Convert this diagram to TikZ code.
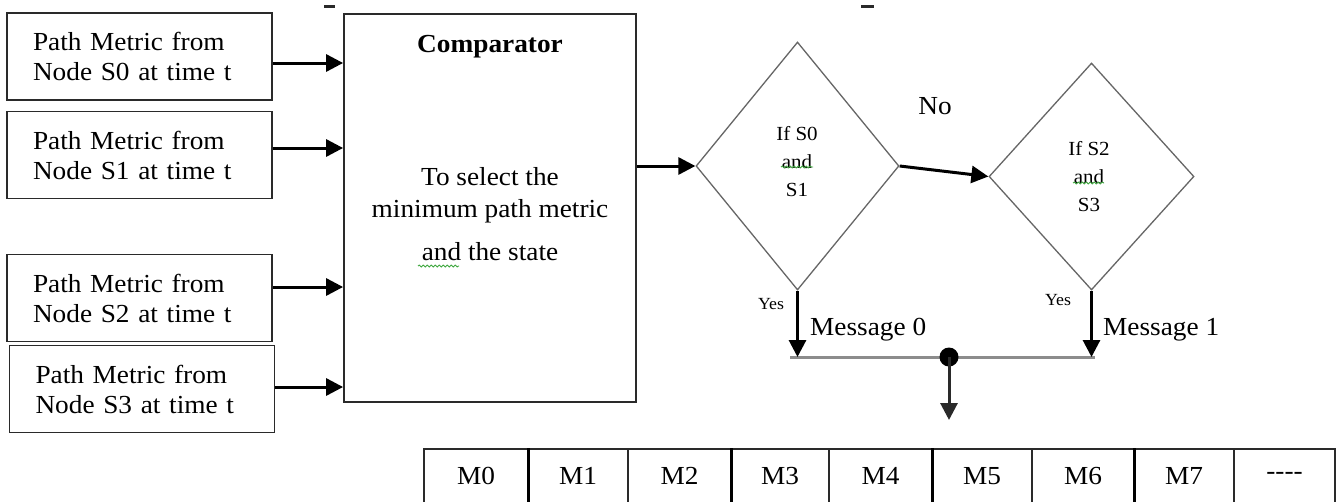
\documentclass[tikz,border=0pt]{standalone}
\usepackage{fontspec}
\setmainfont{Liberation Serif}[FakeStretch=1.05]
\usetikzlibrary{arrows.meta,shapes.geometric,decorations.pathmorphing}
\definecolor{framegray}{HTML}{2A2A2A}
\definecolor{diagray}{HTML}{666666}
\definecolor{busgray}{HTML}{8C8C8C}
\definecolor{spellgreen}{HTML}{3FA83F}
\begin{document}
\begin{tikzpicture}[x=1pt,y=-1pt,
  every node/.style={font=\fontsize{26}{30}\selectfont, text=black},
  srcbox/.style={draw=framegray, line width=1.8pt, minimum height=87pt,
    inner xsep=26pt, inner ysep=0pt, text width=213pt, align=left},
  cmpbox/.style={draw=framegray, line width=1.8pt, minimum width=292pt,
    minimum height=388pt, inner sep=0pt},
  decision/.style={diamond, draw=diagray, line width=1.3pt, inner sep=0pt},
  dectext/.style={font=\fontsize{20}{28}\selectfont, align=center, inner sep=0pt},
  small/.style={font=\fontsize{17}{20}\selectfont, inner sep=0pt},
  flow/.style={-{Triangle[length=17pt,width=17pt]}, line width=3pt},
  cell/.style={draw=framegray, line width=1.6pt, minimum height=54pt, inner sep=0pt},
  thickrule/.style={line width=3.2pt, draw=black},
  squiggle/.style={decorate, decoration={snake, segment length=4pt, amplitude=0.9pt},
    draw=spellgreen, line width=0.9pt},
]
\clip (0,0) rectangle (1340,501);
\fill[white] (0,0) rectangle (1340,501);

% remnants of a heading above the figure
\fill[framegray] (324,5) rectangle (335,8);
\fill[framegray] (861,5) rectangle (874,8);

% path metric sources
\node[srcbox] (s0) at (139.5,56.5) {Path Metric from\\Node S0 at time t};
\node[srcbox] (s1) at (139.5,155) {Path Metric from\\Node S1 at time t};
\node[srcbox] (s2) at (139.5,298) {Path Metric from\\Node S2 at time t};
\node[srcbox] (s3) at (142,389) {Path Metric from\\Node S3 at time t};

% comparator block
\node[cmpbox] (cmp) at (490,208) {};
\node[font=\bfseries\fontsize{26}{30}\selectfont] (cmptitle) at (490,47) {Comparator};
\node[anchor=base] (cmpl1) at (490,185) {To select the};
\node[anchor=base] (cmpl2) at (490,217) {minimum path metric};
\node[anchor=base] (cmpl3) at (490,260) {and the state};
\draw[squiggle] (418,266) -- (459,266);

% inputs into the comparator
\draw[flow] (s0.east |- 0,63) -- (cmp.west |- 0,63);
\draw[flow] (s1.east |- 0,148) -- (cmp.west |- 0,148);
\draw[flow] (s2.east |- 0,287) -- (cmp.west |- 0,287);
\draw[flow] (s3.east |- 0,387) -- (cmp.west |- 0,387);

% decisions
\node[decision, minimum width=203pt, minimum height=248pt] (d1) at (797.5,166) {};
\node[decision, minimum width=205pt, minimum height=227pt] (d2) at (1091.5,176.5) {};
\node[dectext] (d1txt) at (797,162) {If S0\\and\\S1};
\node[dectext] (d2txt) at (1089,177) {If S2\\and\\S3};
\draw[squiggle] (781,167) -- (813,167);
\draw[squiggle] (1073,183) -- (1104,183);

\draw[flow] (cmp.east |- d1.west) -- (d1.west);
\draw[flow] (d1.east) -- (d2.west);
\node (no) at (935,106) {No};

% message outputs
\coordinate (jn) at (949,357);
\coordinate (busl) at (790,357);
\coordinate (busr) at (1095,357);
\coordinate (out) at (949,420);
\draw[busgray, line width=3pt] (busl) -- (busr);
\draw[flow] (d1.south) -- (d1.south |- jn);
\draw[flow] (d2.south) -- (d2.south |- jn);
\node[small] (yes1) at (771,304) {Yes};
\node[small] (yes2) at (1058,300) {Yes};
\node[anchor=base west, inner sep=0pt] (msg0) at (810,335) {Message 0};
\node[anchor=base west, inner sep=0pt] (msg1) at (1103,335) {Message 1};
\fill[black] (jn) circle (9.5pt);
\draw[flow, draw=framegray, fill=black] (jn) -- (out);

% message buffer
\node[cell, minimum width=104pt] (m0) at (476,476) {M0};
\node[cell, minimum width=100pt] (m1) at (578,476) {M1};
\node[cell, minimum width=103pt] (m2) at (679.5,476) {M2};
\node[cell, minimum width=98pt]  (m3) at (780,476) {M3};
\node[cell, minimum width=103pt] (m4) at (880.5,476) {M4};
\node[cell, minimum width=100pt] (m5) at (982,476) {M5};
\node[cell, minimum width=102pt] (m6) at (1083,476) {M6};
\node[cell, minimum width=100pt] (m7) at (1184,476) {M7};
\node[cell, minimum width=101pt] (m8) at (1284.5,476) {{-}{-}{-}{-}};
\draw[thickrule] (m0.north east) -- (m0.south east);
\draw[thickrule] (m2.north east) -- (m2.south east);
\draw[thickrule] (m4.north east) -- (m4.south east);
\draw[thickrule] (m6.north east) -- (m6.south east);
\end{tikzpicture}
\end{document}
